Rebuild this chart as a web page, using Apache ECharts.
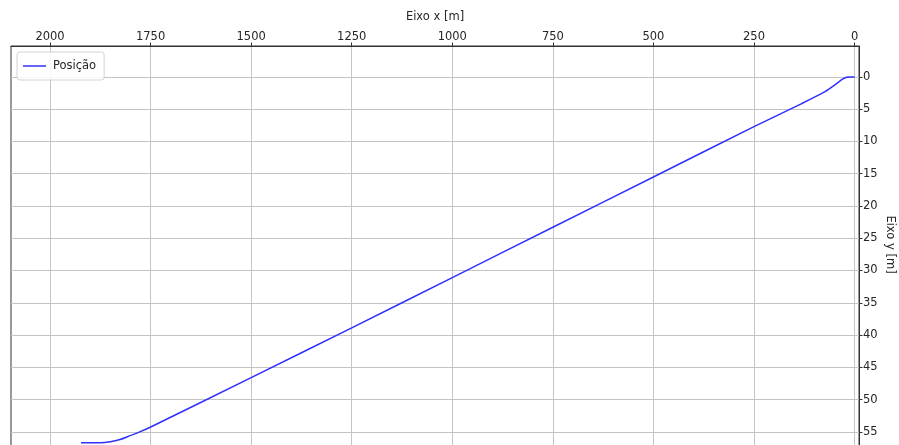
<!DOCTYPE html>
<html>
<head>
<meta charset="utf-8">
<script src="https://cdn.jsdelivr.net/npm/echarts@6/dist/echarts.min.js"></script>
<style>
  html, body { margin: 0; padding: 0; background: #fff; }
  #chart { width: 899px; height: 445px; }
</style>
</head>
<body>
<div id="chart"></div>
<script>
// Trajectory samples: horizontal position (m) and depth (m)
const posX = [0, 10, 20, 30, 40, 55, 77, 134, 250, 500, 750, 1000, 1250, 1500, 1751, 1780, 1801, 1826, 1850, 1875, 1900, 1923];
const posY = [0, 0, 0.05, 0.35, 0.8, 1.5, 2.4, 4.2, 7.7, 15.5, 23.3, 31.1, 38.9, 46.6, 54.3, 55.1, 55.6, 56.2, 56.55, 56.7, 56.7, 56.7];

// Tick values for both axes
const xTicks = [0, 250, 500, 750, 1000, 1250, 1500, 1750, 2000];
const yTicks = [0, 5, 10, 15, 20, 25, 30, 35, 40, 45, 50, 55];

const seriesName = 'Posição';
const xName = 'Eixo x [m]';
const yName = 'Eixo y [m]';

const textColor = '#262626';
const font = 'DejaVu Sans';
const plain = v => String(v);

const chart = echarts.init(document.getElementById('chart'), null, { renderer: 'canvas' });

chart.setOption({
  animation: false,
  backgroundColor: '#ffffff',
  grid: {
    left: 11,
    right: 40,
    top: 46,
    bottom: -10,
    outerBoundsMode: 'none',
    containLabel: false,
    show: true,
    borderColor: '#333333',
    borderWidth: 1,
    backgroundColor: 'transparent'
  },
  legend: {
    left: 17,
    top: 52,
    padding: [8, 8, 8, 6],
    icon: 'rect',
    itemWidth: 23,
    itemHeight: 1.5,
    itemGap: 10,
    borderColor: '#d3d3d3',
    borderWidth: 1,
    borderRadius: 3,
    backgroundColor: 'rgba(255,255,255,0.85)',
    textStyle: { fontFamily: font, fontSize: 11.5, color: textColor, padding: [0, 0, 0, 2] },
    data: [seriesName]
  },
  xAxis: {
    type: 'value',
    position: 'top',
    inverse: true,
    min: -11,
    max: 2097,
    name: xName,
    nameLocation: 'middle',
    nameGap: 23,
    nameMoveOverlap: false,
    nameTextStyle: { fontFamily: font, fontSize: 11.5, color: textColor },
    axisLine: { show: true, onZero: false, lineStyle: { color: '#333333', width: 1 } },
    axisTick: { show: true, inside: false, length: 3.5, lineStyle: { color: '#333333', width: 1 }, customValues: xTicks },
    axisLabel: { fontFamily: font, fontSize: 11.5, color: textColor, margin: 3, customValues: xTicks, formatter: plain },
    splitLine: { show: true, lineStyle: { color: '#c4c4c4', width: 1 } }
  },
  yAxis: {
    type: 'value',
    position: 'right',
    inverse: true,
    min: -4.8,
    max: 58.6,
    name: yName,
    nameLocation: 'middle',
    nameGap: 31,
    nameRotate: -90,
    nameMoveOverlap: false,
    nameTextStyle: { fontFamily: font, fontSize: 11.5, color: textColor, align: 'center', verticalAlign: 'middle', padding: [0, 12, 0, 0] },
    axisLine: { show: true, onZero: false, lineStyle: { color: '#333333', width: 1 } },
    axisTick: { show: true, inside: false, length: 3.5, lineStyle: { color: '#333333', width: 1 }, customValues: yTicks },
    axisLabel: { fontFamily: font, fontSize: 11.5, color: textColor, margin: 4, customValues: yTicks, formatter: plain },
    splitLine: { show: true, lineStyle: { color: '#c4c4c4', width: 1 } }
  },
  series: [{
    name: seriesName,
    type: 'line',
    data: posX.map((x, i) => [x, posY[i]]),
    showSymbol: false,
    smooth: 0.3,
    lineStyle: { color: '#3030ff', width: 1.5 },
    itemStyle: { color: '#3030ff' }
  }]
});
</script>
</body>
</html>
